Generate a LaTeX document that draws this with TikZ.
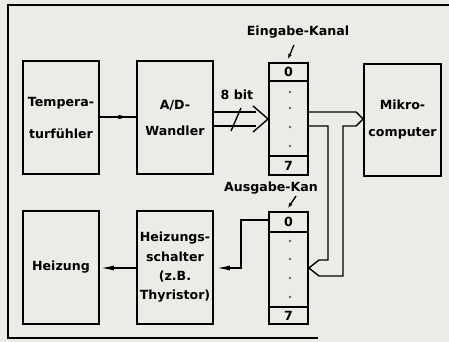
\documentclass[tikz,border=0pt]{standalone}
\usepackage{fontspec}
\setmainfont{DejaVu Sans}
\usetikzlibrary{arrows.meta,decorations.markings}
\definecolor{paper}{RGB}{236,236,230}
\begin{document}
\begin{tikzpicture}[x=1pt,y=-1pt,
  box/.style={draw,line width=1.8pt,minimum width=76pt,minimum height=113pt,inner sep=0pt,align=center,
    font=\bfseries\fontsize{12.6}{15}\selectfont},
  reg/.style={draw,line width=1.8pt,minimum width=39pt,minimum height=112pt,inner sep=0pt},
  conn/.style={line width=1.4pt,line join=miter},
  lbl/.style={inner sep=0pt,font=\bfseries\fontsize{12.6}{15}\selectfont},
  cell/.style={inner sep=0pt,font=\bfseries\fontsize{12.6}{15}\selectfont},
  tip/.style={-{Latex[length=13pt,width=5pt]}},
  dot/.style={circle,fill=black!60,inner sep=0pt,minimum size=2.8pt}]
\useasboundingbox (0,0) rectangle (449,342);
\fill[paper] (0,0) rectangle (449,342);
% frame
\draw[line width=1.6pt] (318,338) -- (8,338) -- (8,5) -- (449,5);
% boxes
\node[box,font=\bfseries\fontsize{12.6}{32}\selectfont] (temp) at (61,117.5) {Tempera-\\turfühler};
\node[box,font=\bfseries\fontsize{12.6}{26}\selectfont] (ad) at (175,117.5) {A/D-\\Wandler};
\node[box,minimum width=77pt,minimum height=112pt,font=\bfseries\fontsize{12.6}{27}\selectfont] (mikro) at (402.5,120) {Mikro-\\computer};
\node[box] (heiz) at (61,267.5) {Heizung};
\node[box,font=\bfseries\fontsize{12.6}{19.3}\selectfont] (schalt) at (175,267.5) {Heizungs-\\schalter\\(z.B.\\Thyristor)};
\node[reg] (reg1) at (288.5,119) {};
\node[reg] (reg2) at (288.5,268) {};
% register cells
\draw[line width=1.6pt] (reg1.west |- 0,81) -- (reg1.east |- 0,81);
\draw[line width=1.6pt] (reg1.west |- 0,156) -- (reg1.east |- 0,156);
\draw[line width=1.6pt] (reg2.west |- 0,232) -- (reg2.east |- 0,232);
\draw[line width=1.6pt] (reg2.west |- 0,307) -- (reg2.east |- 0,307);
\node[cell] (r1a) at (288.5,72) {0};
\node[cell] (r1b) at (288.5,165.5) {7};
\node[cell] (r2a) at (288.5,222) {0};
\node[cell] (r2b) at (288.5,315.5) {7};
\foreach \y [count=\i] in {92,108,127,146} \node[dot] (d1\i) at (290,\y) {};
\foreach \y [count=\i] in {241,259,278,297} \node[dot] (d2\i) at (290,\y) {};
% labels
\node[lbl] (ein) at (298,32) {Eingabe-Kanal};
\node[lbl] (aus) at (271,188) {Ausgabe-Kan};
\node[lbl] (bit) at (237,95) {8 bit};
\coordinate (einT) at (288,59);
\coordinate (ausT) at (288,208);
\draw[line width=1.3pt,-{Latex[length=5pt,width=4pt]}] (294,45) -- (einT);
\draw[line width=1.3pt,-{Latex[length=5pt,width=4pt]}] (296,196) -- (ausT);
% temp -> A/D
\draw[conn,postaction={decorate},
  decoration={markings,mark=at position 0.84 with {\arrow{Latex[length=12pt,width=4.5pt]}}}]
  (temp.east |- 0,117) -- (ad.west |- 0,117);
% A/D -> reg1 bus
\coordinate (tip1) at (reg1.west |- 0,119);
\draw[conn] (ad.east |- 0,112) -- (256,112);
\draw[conn] (ad.east |- 0,126) -- (256,126);
\draw[conn] (253,106) -- (tip1) -- (253,132);
\draw[conn] (231,131) -- (241,108);
% reg1 -> mikro / mikro -> reg2
\coordinate (tip2) at (mikro.west |- 0,119);
\coordinate (tip3) at (reg2.east |- 0,268);
\draw[conn] (reg1.east |- 0,112) -- (356,112) -- (tip2) -- (356,126) -- (343,126) -- (343,276) -- (319,276) -- (tip3);
\draw[conn] (reg1.east |- 0,126) -- (328,126) -- (328,260) -- (319,260) -- (tip3);
% reg2 -> Schalter
\draw[conn,tip,shorten >=3pt] (reg2.west |- 0,220) -- (241,220) -- (241,268) -- (schalt.east |- 0,268);
% Schalter -> Heizung
\draw[conn,tip,shorten >=1pt] (schalt.west |- 0,268) -- (heiz.east |- 0,268);
\end{tikzpicture}
\end{document}
